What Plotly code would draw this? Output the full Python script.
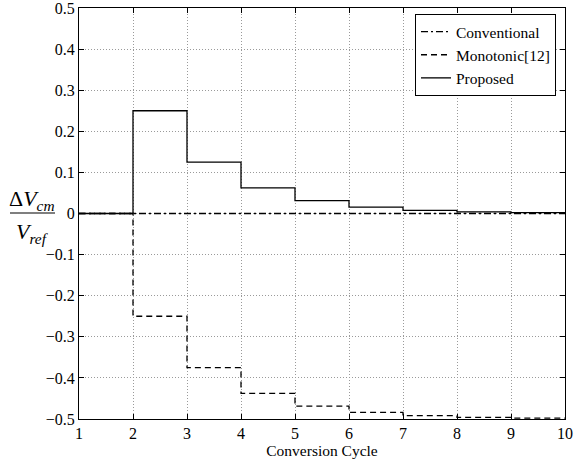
import plotly.graph_objects as go

cycles = [1, 2, 3, 4, 5, 6, 7, 8, 9, 10]
conventional = [0, 0, 0, 0, 0, 0, 0, 0, 0, 0]
monotonic = [0, -0.25, -0.375, -0.4375, -0.46875, -0.484, -0.492, -0.496, -0.498, -0.498]
proposed = [0, 0.25, 0.125, 0.0625, 0.03125, 0.0156, 0.0078, 0.0039, 0.002, 0.002]
x_ticks = [1, 2, 3, 4, 5, 6, 7, 8, 9, 10]

FONT = "Times New Roman, Liberation Serif, DejaVu Serif, serif"

fig = go.Figure()
fig.add_trace(go.Scatter(x=cycles, y=conventional, mode="lines", name="Conventional",
                         line=dict(color="black", width=1.3, dash="7px,3px,2px,3px", shape="hv")))
fig.add_trace(go.Scatter(x=cycles, y=monotonic, mode="lines", name="Monotonic[12]",
                         line=dict(color="black", width=1.3, dash="6px,4px", shape="hv")))
fig.add_trace(go.Scatter(x=cycles, y=proposed, mode="lines", name="Proposed",
                         line=dict(color="black", width=1.3, shape="hv")))

axis_common = dict(showline=True, linecolor="black", linewidth=1.2, mirror="ticks",
                   ticks="inside", ticklen=5, tickcolor="black", tickwidth=1,
                   showgrid=True, gridcolor="#9a9a9a", griddash="1px,2px", gridwidth=1,
                   zeroline=False, automargin=False, ticklabeloverflow="allow",
                   tickfont=dict(family=FONT, size=16, color="black"))

fig.update_xaxes(range=[1, 10], tickvals=x_ticks,
                 title=dict(text="Conversion Cycle", font=dict(family=FONT, size=15.5, color="black"),
                            standoff=0),
                 **axis_common)
fig.update_yaxes(range=[-0.5, 0.5], dtick=0.1, tick0=0, **axis_common)

def px_x(px):
    return (px - 79) / 486.0

def px_y(py):
    return (419 - py) / 411.0

fig.add_annotation(xref="paper", yref="paper", x=px_x(32), y=px_y(200), showarrow=False,
                   text="Δ<i>V<sub>cm</sub></i>", font=dict(family=FONT, size=22, color="black"),
                   xanchor="center", yanchor="middle")
fig.add_annotation(xref="paper", yref="paper", x=px_x(32), y=px_y(233), showarrow=False,
                   text="<i>V<sub>ref</sub></i>", font=dict(family=FONT, size=22, color="black"),
                   xanchor="center", yanchor="middle")
fig.add_shape(type="line", xref="paper", yref="paper", x0=px_x(10), x1=px_x(55),
              y0=px_y(213), y1=px_y(213), line=dict(color="black", width=1.2))

fig.update_layout(
    width=574, height=459,
    margin=dict(l=79, r=9, t=8, b=40, autoexpand=False),
    paper_bgcolor="white", plot_bgcolor="white",
    font=dict(family=FONT, size=15, color="black"),
    showlegend=True,
    legend=dict(x=px_x(556), y=px_y(14), xanchor="right", yanchor="top",
                bordercolor="black", borderwidth=1, bgcolor="white",
                font=dict(family=FONT, size=15.5, color="black"),
                tracegroupgap=0, itemwidth=30),
)

fig.write_html("out.html", config={"displayModeBar": False},
               post_script="document.body.style.margin='0';")
